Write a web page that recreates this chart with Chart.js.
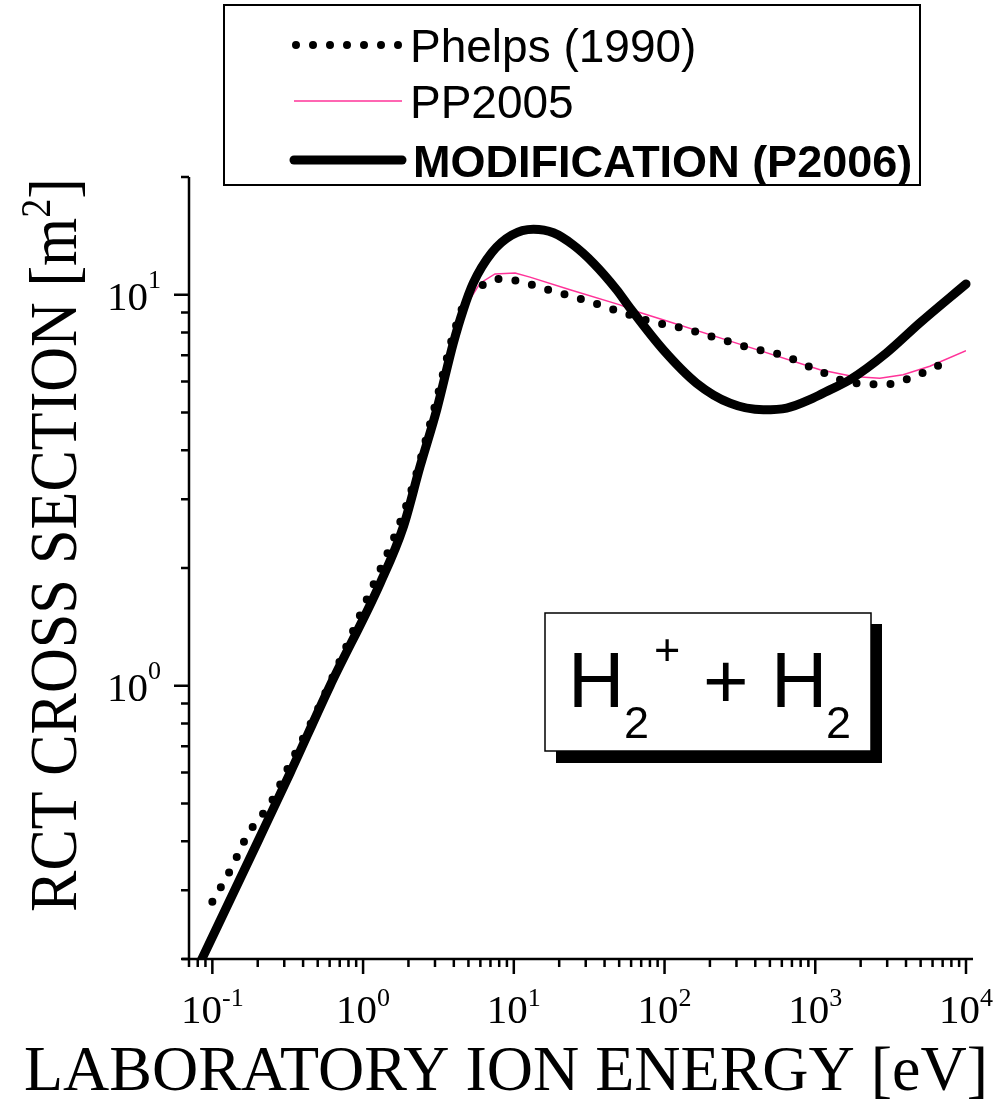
<!DOCTYPE html>
<html>
<head>
<meta charset="utf-8">
<script src="https://cdn.jsdelivr.net/npm/chart.js@4"></script>
<style>
  html, body { margin: 0; padding: 0; background: #fff; }
  #wrap { position: relative; width: 1005px; height: 1101px; }
</style>
</head>
<body>
<div id="wrap"><canvas id="rctChart"></canvas></div>
<script>
// Phelps (1990), dotted curve
const phelpsEnergy = [0.1, 0.134, 0.171, 0.248, 0.32, 0.5, 1, 2, 3, 4, 5, 6.28, 8, 10.45, 17.4, 28.9, 48.6, 80.9, 134, 224, 374, 622, 1045, 1757, 2924, 4864, 8128];
const phelpsSigma = [0.28, 0.342, 0.415, 0.507, 0.62, 0.87, 1.58, 3.0, 5.2, 8.0, 10.0, 10.6, 10.97, 10.85, 10.26, 9.71, 9.1, 8.55, 8.2, 7.74, 7.3, 6.98, 6.4, 5.95, 5.9, 6.25, 6.86];

// PP2005, thin pink polyline
const pp2005Energy = [0.08, 0.2, 0.328, 0.604, 1.3, 1.85, 2.39, 3.08, 3.97, 4.6, 5.97, 7.5, 10.2, 12.8, 23.6, 50.6, 65.3, 100, 300, 1074, 1786, 2680, 3828, 5754, 10000];
const pp2005Sigma = [0.19, 0.399, 0.598, 1.0, 1.83, 2.55, 3.64, 5.08, 7.52, 9.1, 10.7, 11.3, 11.36, 11.09, 10.3, 9.42, 9.06, 8.6, 7.52, 6.43, 6.18, 6.11, 6.24, 6.56, 7.19];

// MODIFICATION (P2006), thick curve
const p2006Energy = [0.08, 0.2, 0.328, 0.604, 1.3, 1.85, 2.39, 3.08, 3.97, 4.6, 5.38, 7.13, 9.68, 13.5, 18.3, 24.8, 33.7, 48.1, 59, 98, 163, 272, 452, 646, 968, 1250, 1698, 2972, 4943, 10000];
const p2006Sigma = [0.19, 0.399, 0.598, 1.0, 1.83, 2.55, 3.64, 5.08, 7.52, 9.1, 10.7, 12.8, 14.2, 14.7, 14.4, 13.4, 12.05, 10.3, 9.25, 7.23, 5.94, 5.28, 5.08, 5.13, 5.44, 5.71, 6.06, 7.1, 8.47, 10.65];

const xMajorTicks = [0.1, 1, 10, 100, 1000, 10000];
const xTickExponents = ["-1", "0", "1", "2", "3", "4"];
const yMajorTicks = [1, 10];
const yTickExponents = ["0", "1"];

const legendLabels = ["Phelps (1990)", "PP2005", "MODIFICATION (P2006)"];

const X_MIN = 0.07, X_MAX = 10000, Y_MIN = 0.2, Y_MAX = 20;
const SERIF = '"Liberation Serif", "Times New Roman", serif';
const SANS = '"Liberation Sans", Arial, sans-serif';
const PINK = "#ff3399";

function toPoints(xs, ys) {
    return xs.map((x, i) => ({ x, y: ys[i] }));
}

function minorTicks(min, max) {
    const out = [];
    for (let d = -3; d <= 4; d++) {
        for (let k = 2; k <= 9; k++) {
            const v = k * Math.pow(10, d);
            if (v >= min * 0.999 && v <= max * 1.001) out.push(v);
        }
    }
    return out;
}

const axesPlugin = {
    id: "rctAxes",
    beforeDraw(chart) {
        const { ctx, width, height } = chart;
        ctx.save();
        ctx.fillStyle = "#fff";
        ctx.fillRect(0, 0, width, height);
        ctx.restore();
    },
    afterDraw(chart) {
        const { ctx, chartArea } = chart;
        const xs = chart.scales.x;
        const ys = chart.scales.y;
        const left = chartArea.left, bottom = chartArea.bottom;

        ctx.save();
        ctx.strokeStyle = "#000";
        ctx.fillStyle = "#000";
        ctx.lineWidth = 2.5;
        ctx.lineCap = "butt";

        // axis lines
        ctx.beginPath();
        ctx.moveTo(left - 7, bottom);
        ctx.lineTo(chartArea.right + 7, bottom);
        ctx.moveTo(left, bottom);
        ctx.lineTo(left, chartArea.top);
        ctx.stroke();

        // x ticks
        ctx.beginPath();
        xMajorTicks.forEach((v) => {
            const px = xs.getPixelForValue(v);
            ctx.moveTo(px, bottom);
            ctx.lineTo(px, bottom + 15);
        });
        minorTicks(X_MIN, X_MAX).forEach((v) => {
            const px = xs.getPixelForValue(v);
            ctx.moveTo(px, bottom);
            ctx.lineTo(px, bottom + 8);
        });
        // y ticks
        yMajorTicks.forEach((v) => {
            const py = ys.getPixelForValue(v);
            ctx.moveTo(left, py);
            ctx.lineTo(left - 15, py);
        });
        minorTicks(Y_MIN, Y_MAX).forEach((v) => {
            const py = ys.getPixelForValue(v);
            ctx.moveTo(left, py);
            ctx.lineTo(left - 8, py);
        });
        ctx.stroke();

        // x tick labels
        ctx.textBaseline = "alphabetic";
        ctx.textAlign = "left";
        xMajorTicks.forEach((v, i) => {
            const px = xs.getPixelForValue(v);
            ctx.font = "41px " + SERIF;
            const w1 = ctx.measureText("10").width;
            ctx.font = "26px " + SERIF;
            const w2 = ctx.measureText(xTickExponents[i]).width;
            const start = px - (w1 + w2) / 2;
            ctx.font = "41px " + SERIF;
            ctx.fillText("10", start, bottom + 64);
            ctx.font = "26px " + SERIF;
            ctx.fillText(xTickExponents[i], start + w1, bottom + 47);
        });

        // y tick labels
        yMajorTicks.forEach((v, i) => {
            const py = ys.getPixelForValue(v);
            ctx.font = "41px " + SERIF;
            const w1 = ctx.measureText("10").width;
            ctx.font = "26px " + SERIF;
            const w2 = ctx.measureText(yTickExponents[i]).width;
            const start = left - 28 - (w1 + w2);
            ctx.font = "41px " + SERIF;
            ctx.fillText("10", start, py + 15);
            ctx.font = "26px " + SERIF;
            ctx.fillText(yTickExponents[i], start + w1, py - 7);
        });

        // x title
        ctx.font = "64px " + SERIF;
        ctx.textAlign = "center";
        ctx.fillText("LABORATORY ION ENERGY [eV]", 506, 1090);

        // y title (rotated, with superscript)
        ctx.save();
        ctx.translate(76, 545);
        ctx.rotate(-Math.PI / 2);
        ctx.scale(1, 1.1);
        ctx.textAlign = "left";
        ctx.font = "62px " + SERIF;
        const t1 = "RCT CROSS SECTION [m";
        const a = ctx.measureText(t1).width;
        const c = ctx.measureText("]").width;
        ctx.font = "38px " + SERIF;
        const b = ctx.measureText("2").width;
        const s0 = -(a + b + c) / 2;
        ctx.font = "62px " + SERIF;
        ctx.fillText(t1, s0, 0);
        ctx.fillText("]", s0 + a + b, 0);
        ctx.font = "38px " + SERIF;
        ctx.fillText("2", s0 + a, -24);
        ctx.restore();

        // legend box
        ctx.lineWidth = 2;
        ctx.strokeRect(224, 5, 696, 180);
        const rows = [45, 101, 160];
        const ds = chart.data.datasets;
        const legendStyle = [ds[1], ds[2], ds[0]];
        legendStyle.forEach((d, i) => {
            ctx.save();
            ctx.strokeStyle = d.borderColor;
            ctx.lineWidth = d.borderWidth;
            ctx.lineCap = d.borderCapStyle || "butt";
            ctx.setLineDash(d.borderDash || []);
            ctx.beginPath();
            ctx.moveTo(i === 0 ? 296 : 294, rows[i]);
            ctx.lineTo(i === 0 ? 400 : 402, rows[i]);
            ctx.stroke();
            ctx.restore();
        });
        ctx.textAlign = "left";
        ctx.fillStyle = "#000";
        ctx.font = "46px " + SANS;
        ctx.fillText(legendLabels[0], 410, 62);
        ctx.fillText(legendLabels[1], 410, 118);
        ctx.font = "bold 45px " + SANS;
        ctx.fillText(legendLabels[2], 413, 177);

        // H2+ + H2 label box
        ctx.fillStyle = "#000";
        ctx.fillRect(556, 624, 326, 139);
        ctx.fillStyle = "#fff";
        ctx.fillRect(545, 613, 326, 138);
        ctx.lineWidth = 1.5;
        ctx.strokeRect(545, 613, 326, 138);
        ctx.fillStyle = "#000";
        ctx.font = "78px " + SANS;
        ctx.fillText("H", 568, 707);
        ctx.fillText("+", 703, 708);
        ctx.fillText("H", 771, 707);
        ctx.font = "45px " + SANS;
        ctx.fillText("2", 624, 738);
        ctx.fillText("+", 654, 665);
        ctx.fillText("2", 826, 738);

        ctx.restore();
    }
};

new Chart(document.getElementById("rctChart"), {
    type: "line",
    data: {
        datasets: [
            {
                label: legendLabels[2],
                data: toPoints(p2006Energy, p2006Sigma),
                borderColor: "#000",
                borderWidth: 9,
                borderCapStyle: "round",
                borderJoinStyle: "round",
                cubicInterpolationMode: "monotone",
                pointRadius: 0,
                clip: { left: 0, top: 0, right: 8, bottom: 0 }
            },
            {
                label: legendLabels[0],
                data: toPoints(phelpsEnergy, phelpsSigma),
                borderColor: "#000",
                borderWidth: 8,
                borderCapStyle: "round",
                borderDash: [0, 17],
                cubicInterpolationMode: "monotone",
                pointRadius: 0
            },
            {
                label: legendLabels[1],
                data: toPoints(pp2005Energy, pp2005Sigma),
                borderColor: PINK,
                borderWidth: 1.5,
                tension: 0,
                pointRadius: 0,
                clip: 0
            }
        ]
    },
    options: {
        responsive: true,
        maintainAspectRatio: false,
        animation: false,
        events: [],
        layout: { padding: { left: 0, top: 177, right: 39, bottom: 0 } },
        plugins: {
            legend: { display: false },
            tooltip: { enabled: false }
        },
        scales: {
            x: {
                type: "logarithmic",
                min: X_MIN,
                max: X_MAX,
                ticks: { display: false },
                grid: { display: false },
                border: { display: false },
                afterFit: (scale) => { scale.height = 142; }
            },
            y: {
                type: "logarithmic",
                min: Y_MIN,
                max: Y_MAX,
                ticks: { display: false },
                grid: { display: false },
                border: { display: false },
                afterFit: (scale) => { scale.width = 189; }
            }
        }
    },
    plugins: [axesPlugin]
});
</script>
</body>
</html>
